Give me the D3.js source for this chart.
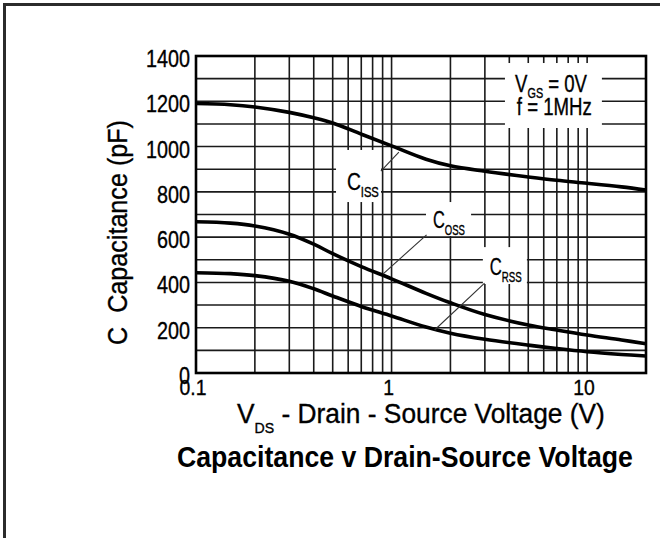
<!DOCTYPE html>
<html>
<head>
<meta charset="utf-8">
<script src="https://cdn.jsdelivr.net/npm/d3@7"></script>
<style>
  html, body { margin: 0; padding: 0; background: #fff; }
  svg { display: block; }
  text { font-family: "Liberation Sans", Arial, Helvetica, sans-serif; fill: #000; white-space: pre; }
  text.thick { stroke: #000; stroke-width: 0.35; }
</style>
</head>
<body>
<svg id="chart" width="660" height="538"></svg>
<script>
// ---------------- data ----------------
const vds  = [0.1, 0.15, 0.2, 0.3, 0.4, 0.5, 0.7, 1, 1.5, 2, 3, 5, 7, 10, 15, 20];
const ciss = [1190, 1185, 1175, 1151, 1127, 1104, 1055, 1003, 944, 915, 891, 866, 851, 838, 822, 808];
const coss = [668, 662, 649, 613, 569, 527, 470, 416, 352, 310, 258, 212, 190, 168, 146, 129];
const crss = [443, 439, 430, 405, 372, 340, 294, 252, 203, 176, 149, 123, 108, 94, 82, 75];

const yTicks = [0, 200, 400, 600, 800, 1000, 1200, 1400];
const xTickLabels = [[0.1, "0.1"], [1, "1"], [10, "10"]];
const xGrid = [0.2,0.3,0.4,0.5,0.6,0.7,0.8,0.9,1,2,3,4,5,6,7,8,9,10];
const yGrid = [100,200,300,400,500,600,700,800,900,1000,1100,1200,1300];

// curve labels (data units): text start, white box, leader line
const curveLabels = [
  { main: "C", sub: "ISS", at: [0.591, 808], box: [[0.520, 985], [0.883, 755]], leader: [[0.882, 892], [1.09, 976]] },
  { main: "C", sub: "OSS", at: [1.628, 640], box: [[1.50, 755], [2.55, 605]],  leader: [[1.51, 610], [0.903, 437]] },
  { main: "C", sub: "RSS", at: [3.18, 433],  box: [[2.93, 556], [4.92, 393]],  leader: [[2.99, 397], [1.66, 190]] }
];
const condBox = [[3.80, 1369], [11.9, 1082]];
const condLine1 = { at: [4.28, 1241] };
const condLine2 = { at: [4.37, 1139], text: "f = 1MHz" };

// ---------------- layout ----------------
const svg = d3.select("#chart");
const pL = 196, pR = 646, pT = 56, pB = 373;
const x = d3.scaleLog().domain([0.1, 20]).range([pL, pR]);
const y = d3.scaleLinear().domain([0, 1400]).range([pB, pT]);

// outer border (left & top)
svg.append("path").attr("d", "M4.5,538V4.5H660")
  .attr("fill", "none").attr("stroke", "#2b2b2b").attr("stroke-width", 3);

// grid
const grid = svg.append("g").attr("stroke", "#1a1a1a").attr("stroke-width", 1.6);
grid.selectAll("line.v").data(xGrid).join("line").attr("class", "v")
  .attr("x1", d => x(d)).attr("x2", d => x(d)).attr("y1", pT).attr("y2", pB);
grid.selectAll("line.h").data(yGrid).join("line").attr("class", "h")
  .attr("x1", pL).attr("x2", pR).attr("y1", d => y(d)).attr("y2", d => y(d));

// white boxes for labels
function whiteBox(b) {
  svg.append("rect")
    .attr("x", x(b[0][0])).attr("y", y(b[0][1]))
    .attr("width", x(b[1][0]) - x(b[0][0]))
    .attr("height", y(b[1][1]) - y(b[0][1]))
    .attr("fill", "#fff");
}
curveLabels.forEach(l => whiteBox(l.box));
whiteBox(condBox);

// frame
svg.append("rect").attr("x", pL).attr("y", pT)
  .attr("width", pR - pL).attr("height", pB - pT)
  .attr("fill", "none").attr("stroke", "#000").attr("stroke-width", 2.6);

// curves
const line = d3.line().x(d => x(d[0])).y(d => y(d[1])).curve(d3.curveCatmullRom.alpha(0.5));
[ciss, coss, crss].forEach(series => {
  svg.append("path").datum(vds.map((v, i) => [v, series[i]]))
    .attr("d", line).attr("fill", "none").attr("stroke", "#000")
    .attr("stroke-width", 3.6).attr("stroke-linejoin", "round");
});

// leaders
curveLabels.forEach(l => {
  svg.append("line")
    .attr("x1", x(l.leader[0][0])).attr("y1", y(l.leader[0][1]))
    .attr("x2", x(l.leader[1][0])).attr("y2", y(l.leader[1][1]))
    .attr("stroke", "#333").attr("stroke-width", 1.1);
});

// rich text helper: parts = [{t, sub}], scaled horizontally
function rich(px, py, parts, opt) {
  const g = svg.append("g");
  const t = g.append("text").attr("x", 0).attr("y", 0).attr("class", opt.bold ? null : "thick")
    .attr("font-size", opt.fs).attr("font-weight", opt.bold ? "bold" : null);
  let subOn = false;
  parts.forEach(p => {
    const ts = t.append("tspan").text(p.t);
    if (p.sub) { ts.attr("font-size", opt.sfs).attr("dy", subOn ? 0 : opt.sdy); subOn = true; }
    else { if (subOn) ts.attr("dy", -opt.sdy); subOn = false; }
  });
  const w = t.node().getBBox().width;
  const sx = opt.width ? opt.width / w : (opt.sx || 1);
  const tw = w * sx;
  let ox = px;
  if (opt.anchor === "middle") ox = px - tw / 2;
  if (opt.anchor === "end") ox = px - tw;
  g.attr("transform", `translate(${ox},${py}) scale(${sx},1)`);
  return g;
}

// y tick labels
yTicks.forEach(v => rich(190, y(v) + 11, [{ t: String(v) }], { fs: 23, sx: 0.86, anchor: "end" }));
// x tick labels
xTickLabels.forEach(([v, s]) => rich(x(v) - 3, 395, [{ t: s }], { fs: 22, sx: 0.88, anchor: "middle" }));

// axis titles
rich(237, 423, [{ t: "V" }, { t: "DS", sub: true }, { t: " - Drain - Source Voltage (V)" }],
  { fs: 28, sfs: 15, sdy: 10, width: 368 });
// y title (rotated)
(function () {
  const g = svg.append("g");
  const t = g.append("text").attr("class", "thick").attr("font-size", 28).text("C  Capacitance (pF)");
  const w = t.node().getBBox().width;
  const sx = 225 / w;
  g.attr("transform", `translate(127,345) rotate(-90) scale(${sx},1)`);
})();

// chart title
rich(177, 467, [{ t: "Capacitance v Drain-Source Voltage" }], { fs: 30, bold: true, width: 456 });

// curve labels
curveLabels.forEach(l => {
  rich(x(l.at[0]), y(l.at[1]), [{ t: l.main }, { t: l.sub, sub: true }],
    { fs: 24, sfs: 14, sdy: 7, width: 32 });
});

// conditions
rich(x(condLine1.at[0]), y(condLine1.at[1]),
  [{ t: "V" }, { t: "GS", sub: true }, { t: " = 0V" }], { fs: 24, sfs: 14, sdy: 6, width: 72 });
rich(x(condLine2.at[0]), y(condLine2.at[1]), [{ t: condLine2.text }], { fs: 24, width: 75 });
</script>
</body>
</html>
